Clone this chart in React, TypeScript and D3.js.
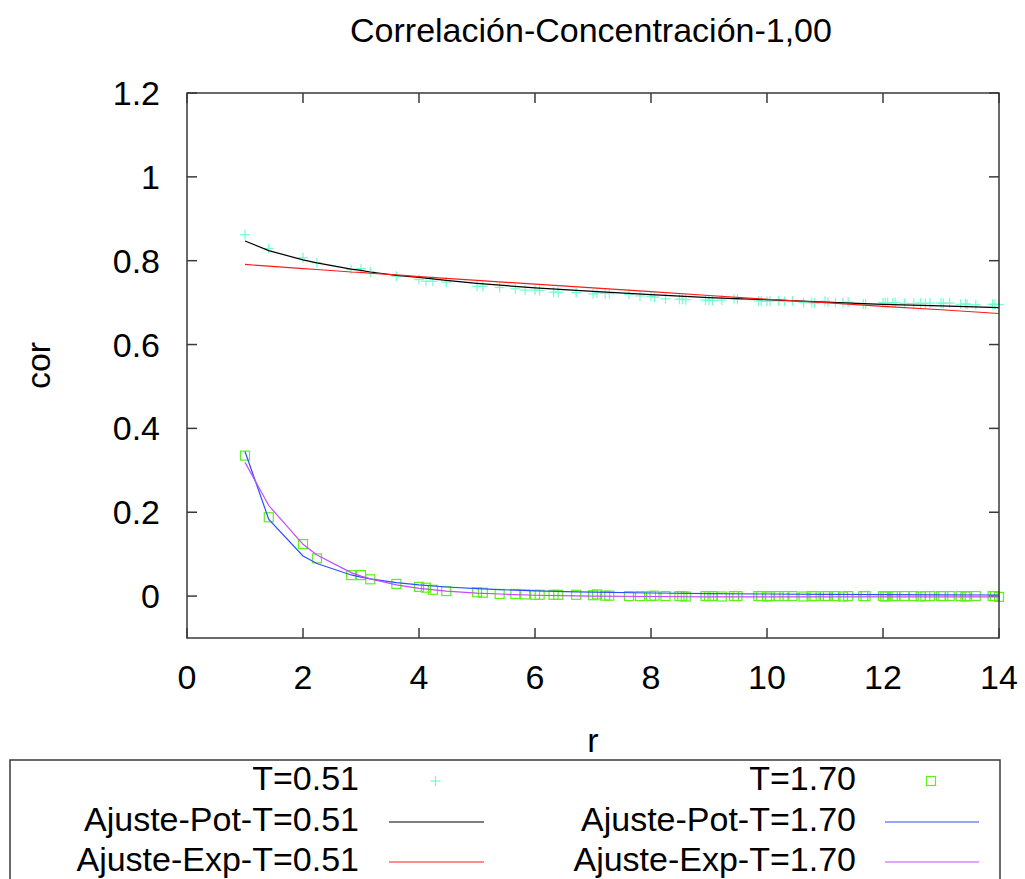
import React from 'react';
import * as d3 from 'd3';

// lattice distances r
const rValues = [1, 1.41, 2, 2.24, 2.83, 3, 3.16, 3.61, 4, 4.12, 4.24, 4.47, 5, 5.10, 5.39, 5.66, 5.83, 6, 6.08, 6.32,
  6.40, 6.71, 7, 7.07, 7.21, 7.28, 7.62, 7.81, 8, 8.06, 8.25, 8.49, 8.54, 8.60, 8.94, 9, 9.06, 9.22, 9.43, 9.49,
  9.85, 9.90, 10, 10.05, 10.20, 10.30, 10.44, 10.63, 10.77, 10.82, 11, 11.05, 11.18, 11.31, 11.40, 11.66, 11.70, 12, 12.04, 12.08,
  12.17, 12.21, 12.37, 12.53, 12.65, 12.73, 12.81, 13, 13.04, 13.15, 13.34, 13.42, 13.45, 13.60, 13.89, 13.93, 14];

const corT051 = [0.862, 0.829, 0.807, 0.795, 0.779, 0.781, 0.773, 0.763, 0.755, 0.751, 0.751, 0.749, 0.739, 0.739, 0.736, 0.733, 0.730, 0.730, 0.729, 0.725,
  0.725, 0.724, 0.721, 0.723, 0.722, 0.722, 0.720, 0.716, 0.715, 0.713, 0.709, 0.708, 0.708, 0.707, 0.706, 0.706, 0.705, 0.706, 0.709, 0.708,
  0.704, 0.704, 0.703, 0.704, 0.704, 0.703, 0.704, 0.700, 0.700, 0.699, 0.703, 0.701, 0.700, 0.700, 0.701, 0.696, 0.697, 0.700, 0.699, 0.700,
  0.699, 0.700, 0.698, 0.698, 0.699, 0.698, 0.699, 0.699, 0.698, 0.699, 0.696, 0.697, 0.696, 0.695, 0.696, 0.696, 0.695];

const corT170 = [0.335, 0.188, 0.124, 0.090, 0.050, 0.050, 0.040, 0.029, 0.022, 0.020, 0.015, 0.012, 0.009, 0.008, 0.005, 0.005, 0.004, 0.003, 0.003, 0.003,
  0.003, 0.003, 0.002, 0.004, 0.001, 0.001, 0.000, 0.000, 0.000, 0.001, 0.000, 0.000, 0.000, -0.001, 0.000, 0.000, 0.000, -0.001, 0.000, 0.000,
  0.000, 0.000, -0.001, 0.000, 0.000, 0.000, 0.000, -0.001, 0.000, 0.000, 0.000, 0.000, 0.000, -0.001, 0.000, 0.000, 0.000, 0.000, -0.001, 0.000,
  0.000, 0.000, 0.000, 0.000, -0.001, 0.000, 0.000, 0.000, 0.000, 0.000, 0.000, -0.001, 0.000, 0.000, 0.000, 0.000, -0.002];

// fitted curves, sampled at r
const fitR051 = [1, 1.41, 2, 2.24, 2.83, 3, 3.16, 3.61, 4, 4.47, 5, 6, 7, 8, 9, 10, 11, 12, 13, 14];
const potT051 = [0.847, 0.824, 0.802, 0.795, 0.780, 0.777, 0.773, 0.765, 0.760, 0.753, 0.746, 0.735, 0.727, 0.719, 0.712, 0.707, 0.701, 0.696, 0.692, 0.688];
const expT051 = [0.791, 0.787, 0.781, 0.779, 0.773, 0.772, 0.770, 0.766, 0.762, 0.758, 0.753, 0.744, 0.735, 0.726, 0.717, 0.708, 0.700, 0.691, 0.683, 0.674];

const fitR170 = [1, 1.41, 2, 2.24, 2.83, 3, 3.16, 3.61, 4, 4.47, 5, 5.39, 6, 6.71, 7, 8, 9, 10, 11, 12, 13, 14];
const potT170 = [0.345, 0.183, 0.0957, 0.0778, 0.0504, 0.0452, 0.0411, 0.0321, 0.0265, 0.0216, 0.0176, 0.0153, 0.0125, 0.0102, 0.0094, 0.0074, 0.0059, 0.0049, 0.0041, 0.0035, 0.0030, 0.0026];
const expT170 = [0.319, 0.216, 0.1234, 0.0982, 0.0560, 0.0477, 0.0410, 0.0268, 0.0185, 0.0118, 0.0071, 0.0049, 0.0020, 0.0005, 0.0, -0.001, -0.002, -0.002, -0.002, -0.002, -0.002, -0.002];

const xTicks = [0, 2, 4, 6, 8, 10, 12, 14];
const yTicks = [0, 0.2, 0.4, 0.6, 0.8, 1, 1.2];
const yTickLabels = ['0', '0.2', '0.4', '0.6', '0.8', '1', '1.2'];

const legendLabels = ['T=0.51', 'Ajuste-Pot-T=0.51', 'Ajuste-Exp-T=0.51', 'T=1.70', 'Ajuste-Pot-T=1.70', 'Ajuste-Exp-T=1.70'];

const C_PLUS = '#70ffd0';
const C_SQ = '#5cf01c';
const C_BLACK = '#000000';
const C_RED = '#ff1a1a';
const C_BLUE = '#2f4fff';
const C_VIOLET = '#c04cff';

const FONT = '"Liberation Sans", Arial, Helvetica, sans-serif';
const FS = 34;

export default function App() {
  const W = 1025, H = 879;
  const L = 187, R = 999, T = 93, B = 638;
  const x = d3.scaleLinear().domain([0, 14]).range([L, R]);
  const y = d3.scaleLinear().domain([-0.1, 1.2]).range([B, T]);
  const line = d3.line<[number, number]>().x(d => x(d[0])).y(d => y(d[1]));
  const frame = '#3a3a3a';
  const tickLen = 10;

  const plus = (cx: number, cy: number, key: string | number) => (
    <g key={key} stroke={C_PLUS} strokeWidth={1.2}>
      <line x1={cx - 5} x2={cx + 5} y1={cy} y2={cy} />
      <line x1={cx} x2={cx} y1={cy - 5} y2={cy + 5} />
    </g>
  );
  const square = (cx: number, cy: number, key: string | number) => (
    <rect key={key} x={cx - 4.5} y={cy - 4.5} width={9} height={9} fill="none" stroke={C_SQ} strokeWidth={1.2} />
  );

  const legendRowY = [781, 822, 862];
  const colTextX = [359, 856];
  const colLine = [[389, 484], [885, 979]];
  const lineColors = [[C_BLACK, C_RED], [C_BLUE, C_VIOLET]];

  return (
    <svg width={W} height={H} style={{ position: 'absolute', left: 0, top: 0, display: 'block', background: '#fff' }}
      fontFamily={FONT}>
      <rect x={0} y={0} width={W} height={H} fill="#fff" />
      {/* title */}
      <text x={591} y={42} fontSize={FS} textAnchor="middle">Correlación-Concentración-1,00</text>

      {/* ticks */}
      {xTicks.map((t, i) => (
        <g key={'xt' + i}>
          <line x1={x(t)} x2={x(t)} y1={B} y2={B - tickLen} stroke={frame} strokeWidth={1.5} />
          <line x1={x(t)} x2={x(t)} y1={T} y2={T + tickLen} stroke={frame} strokeWidth={1.5} />
          <text x={x(t)} y={689} fontSize={FS} textAnchor="middle">{String(t)}</text>
        </g>
      ))}
      {yTicks.map((t, i) => (
        <g key={'yt' + i}>
          <line x1={L} x2={L + tickLen} y1={y(t)} y2={y(t)} stroke={frame} strokeWidth={1.5} />
          <line x1={R} x2={R - tickLen} y1={y(t)} y2={y(t)} stroke={frame} strokeWidth={1.5} />
          <text x={160} y={y(t) + 12} fontSize={FS} textAnchor="end">{yTickLabels[i]}</text>
        </g>
      ))}

      {/* axis labels */}
      <text x={593} y={752} fontSize={FS} textAnchor="middle">r</text>
      <text transform={`translate(50,${(T + B) / 2}) rotate(-90)`} fontSize={FS} textAnchor="middle">cor</text>

      {/* data */}
      {rValues.map((r, i) => plus(x(r), y(corT051[i]), 'p' + i))}
      <path d={line(fitR051.map((r, i) => [r, potT051[i]] as [number, number])) || ''} fill="none" stroke={C_BLACK} strokeWidth={1.2} />
      <path d={line(fitR051.map((r, i) => [r, expT051[i]] as [number, number])) || ''} fill="none" stroke={C_RED} strokeWidth={1.2} />
      {rValues.map((r, i) => square(x(r), y(corT170[i]), 's' + i))}
      <path d={line(fitR170.map((r, i) => [r, potT170[i]] as [number, number])) || ''} fill="none" stroke={C_BLUE} strokeWidth={1.2} />
      <path d={line(fitR170.map((r, i) => [r, expT170[i]] as [number, number])) || ''} fill="none" stroke={C_VIOLET} strokeWidth={1.2} />

      {/* frame */}
      <rect x={L} y={T} width={R - L} height={B - T} fill="none" stroke={frame} strokeWidth={1.5} />

      {/* legend */}
      <rect x={10} y={760} width={990} height={140} fill="none" stroke={frame} strokeWidth={1.5} />
      {[0, 1].map(c => (
        <g key={'lc' + c}>
          {[0, 1, 2].map(rw => (
            <text key={'lt' + rw} x={colTextX[c]} y={legendRowY[rw] + 9} fontSize={FS} textAnchor="end">
              {legendLabels[c * 3 + rw]}
            </text>
          ))}
          {c === 0 ? plus((colLine[0][0] + colLine[0][1]) / 2 - 1, legendRowY[0], 'lp') : square((colLine[1][0] + colLine[1][1]) / 2 - 1, legendRowY[0], 'ls')}
          {[1, 2].map(rw => (
            <line key={'ll' + rw} x1={colLine[c][0]} x2={colLine[c][1]} y1={legendRowY[rw]} y2={legendRowY[rw]}
              stroke={lineColors[c][rw - 1]} strokeWidth={1.2} />
          ))}
        </g>
      ))}
    </svg>
  );
}
